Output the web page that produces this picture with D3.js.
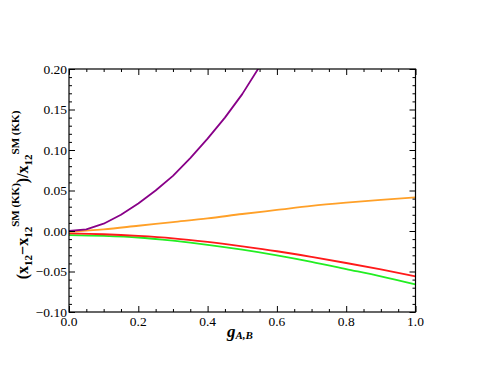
<!DOCTYPE html>
<html lang="en">
<head>
<meta charset="utf-8" />
<script src="https://d3js.org/d3.v7.min.js"></script>
<style>
  body { margin: 0; background: #fff; }
  svg text { font-family: "Liberation Serif", "Times New Roman", serif; }
</style>
</head>
<body>
<svg width="485" height="381"></svg>
<script>
// data
var gPurple = [0, 0.05, 0.1, 0.15, 0.2, 0.25, 0.3, 0.35, 0.4, 0.45, 0.5, 0.55, 0.6];
var purple = [0.000, 0.002, 0.009, 0.020, 0.034, 0.050, 0.068, 0.090, 0.114, 0.140, 0.169, 0.203, 0.240];
var gGrid = [0, 0.1, 0.2, 0.3, 0.4, 0.5, 0.6, 0.7, 0.8, 0.9, 1.0];
var orange = [-0.001, 0.002, 0.0065, 0.011, 0.0155, 0.021, 0.026, 0.031, 0.035, 0.0385, 0.0415];
var red = [-0.003, -0.004, -0.006, -0.009, -0.0135, -0.019, -0.025, -0.032, -0.0395, -0.0475, -0.056];
var green = [-0.005, -0.006, -0.008, -0.012, -0.017, -0.023, -0.030, -0.038, -0.047, -0.056, -0.066];
var xTicks = [0, 0.2, 0.4, 0.6, 0.8, 1.0];
var yTicks = [-0.10, -0.05, 0.00, 0.05, 0.10, 0.15, 0.20];

var svg = d3.select("svg");
var pLeft = 69, pRight = 415.5, pTop = 69, pBottom = 312;

var x = d3.scaleLinear().domain([0, 1]).range([pLeft, pRight]);
var y = d3.scaleLinear().domain([-0.10, 0.20]).range([pBottom, pTop]);

svg.append("clipPath").attr("id", "clip")
  .append("rect")
  .attr("x", pLeft).attr("y", pTop)
  .attr("width", pRight - pLeft).attr("height", pBottom - pTop);

var smooth = d3.line()
  .x(function (d) { return x(d[0]); })
  .y(function (d) { return y(d[1]); })
  .curve(d3.curveMonotoneX);
// the purple one is drawn as a polyline in the original (visible kinks)
var poly = d3.line()
  .x(function (d) { return x(d[0]); })
  .y(function (d) { return y(d[1]); });

var series = [
  { xs: gGrid, ys: green, color: "#22ee22", line: smooth },
  { xs: gGrid, ys: red, color: "#ff1a1a", line: smooth },
  { xs: gGrid, ys: orange, color: "#ffa028", line: smooth },
  { xs: gPurple, ys: purple, color: "#880088", line: poly }
];

var plot = svg.append("g").attr("clip-path", "url(#clip)");
series.forEach(function (s) {
  plot.append("path")
    .datum(s.xs.map(function (v, i) { return [v, s.ys[i]]; }))
    .attr("fill", "none")
    .attr("stroke", s.color)
    .attr("stroke-width", 1.8)
    .attr("stroke-linejoin", "round")
    .attr("d", s.line);
});

// frame ticks, all four sides, pointing inward
var xMinor = d3.range(0, 1.0001, 0.05);
var yMinor = d3.range(-0.10, 0.2001, 0.01);
function isMajor(v, list) {
  return list.some(function (t) { return Math.abs(t - v) < 1e-6; });
}

svg.append("g").attr("transform", "translate(0," + pBottom + ")")
  .call(d3.axisTop(x).tickValues(xMinor).tickFormat("").tickSizeOuter(0))
  .call(function (g) {
    g.select(".domain").remove();
    g.selectAll(".tick line").attr("y2", function (d) { return isMajor(d, xTicks) ? -6 : -3; });
  });
svg.append("g").attr("transform", "translate(0," + pTop + ")")
  .call(d3.axisBottom(x).tickValues(xMinor).tickFormat("").tickSizeOuter(0))
  .call(function (g) {
    g.select(".domain").remove();
    g.selectAll(".tick line").attr("y2", function (d) { return isMajor(d, xTicks) ? 6 : 3; });
  });
svg.append("g").attr("transform", "translate(" + pLeft + ",0)")
  .call(d3.axisRight(y).tickValues(yMinor).tickFormat("").tickSizeOuter(0))
  .call(function (g) {
    g.select(".domain").remove();
    g.selectAll(".tick line").attr("x2", function (d) { return isMajor(d, yTicks) ? 6 : 3; });
  });
svg.append("g").attr("transform", "translate(" + pRight + ",0)")
  .call(d3.axisLeft(y).tickValues(yMinor).tickFormat("").tickSizeOuter(0))
  .call(function (g) {
    g.select(".domain").remove();
    g.selectAll(".tick line").attr("x2", function (d) { return isMajor(d, yTicks) ? -6 : -3; });
  });

svg.append("rect")
  .attr("x", pLeft).attr("y", pTop)
  .attr("width", pRight - pLeft).attr("height", pBottom - pTop)
  .attr("fill", "none").attr("stroke", "#000").attr("stroke-width", 1.2);

// tick labels
svg.append("g").selectAll("text")
  .data(xTicks).enter().append("text")
  .attr("x", function (d) { return x(d); })
  .attr("y", pBottom + 14)
  .attr("text-anchor", "middle")
  .attr("font-size", 13.5)
  .text(function (d) { return d3.format(".1f")(d); });

svg.append("g").selectAll("text")
  .data(yTicks).enter().append("text")
  .attr("x", pLeft - 2)
  .attr("y", function (d) { return y(d) + 4.5; })
  .attr("text-anchor", "end")
  .attr("font-size", 13.5)
  .text(function (d) { return d3.format(".2f")(d).replace("-", "\u2212"); });

// x axis label
var xl = svg.append("text")
  .attr("x", 240).attr("y", 337)
  .attr("text-anchor", "middle")
  .attr("font-weight", "bold")
  .attr("font-style", "italic");
xl.append("tspan").attr("font-size", 17).text("g");
xl.append("tspan").attr("font-size", 11).attr("dy", 2).text("A,B");

// y axis label
var yl = svg.append("text")
  .attr("transform", "translate(28,195) rotate(-90)")
  .attr("text-anchor", "middle")
  .attr("font-weight", "bold")
  .attr("font-size", 16);
yl.append("tspan").text("(x");
yl.append("tspan").attr("font-size", 11).attr("dy", 4).text("12");
yl.append("tspan").attr("dy", -4).text("\u2212x");
yl.append("tspan").attr("font-size", 11).attr("dy", 4).text("12");
yl.append("tspan").attr("font-size", 11).attr("dy", -13).text("SM (KK)");
yl.append("tspan").attr("dy", 9).text(")/x");
yl.append("tspan").attr("font-size", 11).attr("dy", 4).text("12");
yl.append("tspan").attr("font-size", 11).attr("dy", -13).text("SM (KK)");
</script>
</body>
</html>
